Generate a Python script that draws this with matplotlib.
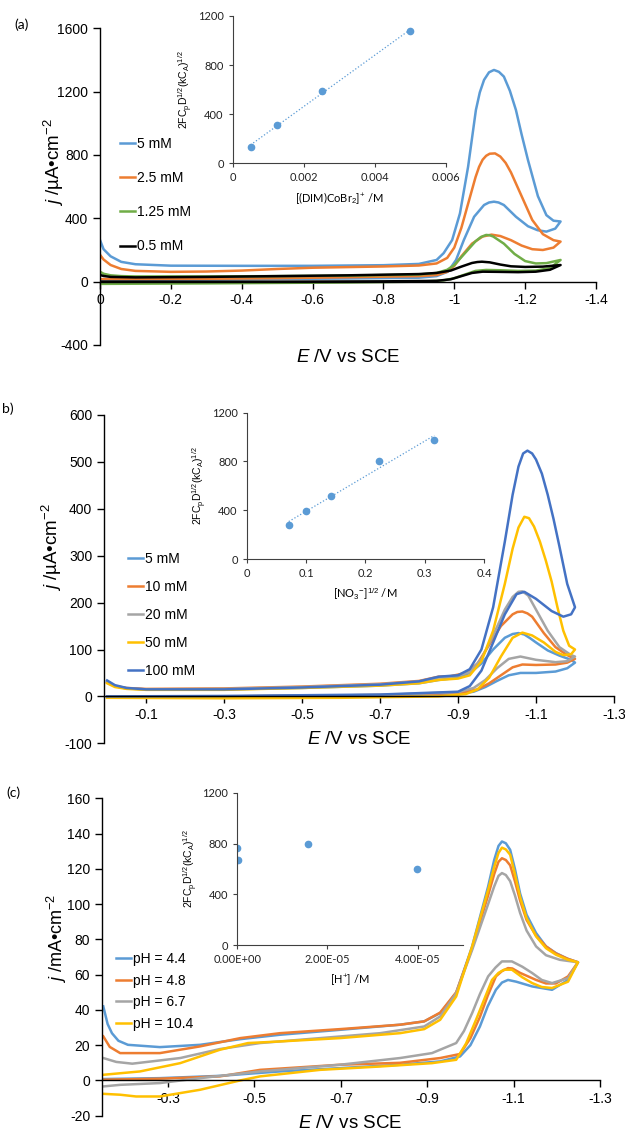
import numpy as np
import matplotlib
matplotlib.use("Agg")
import matplotlib.pyplot as plt
from matplotlib.lines import Line2D

plt.rcParams['font.family'] = ['Liberation Sans', 'DejaVu Sans']
plt.rcParams['axes.unicode_minus'] = False
plt.rcParams['mathtext.fontset'] = 'custom'
plt.rcParams['mathtext.rm'] = 'Liberation Sans'
plt.rcParams['mathtext.it'] = 'Liberation Sans:italic'

# ---------------- panel (a): concentration of (DIM)CoBr2+ ----------------
a_labels = ["5 mM", "2.5 mM", "1.25 mM", "0.5 mM"]
a_5mM = [(0, 263), (-0.01, 205), (-0.03, 160), (-0.06, 125), (-0.1, 110), (-0.2, 101), (-0.4, 100),
         (-0.6, 100), (-0.8, 104), (-0.9, 112), (-0.95, 137), (-0.97, 180), (-0.994, 263), (-1.016, 431),
         (-1.039, 726), (-1.061, 1084), (-1.072, 1195), (-1.084, 1274), (-1.098, 1322), (-1.112, 1337),
         (-1.126, 1325), (-1.14, 1295), (-1.157, 1205), (-1.174, 1084), (-1.19, 930), (-1.208, 768),
         (-1.236, 540), (-1.26, 420), (-1.28, 385), (-1.3, 380),
         (-1.285, 335), (-1.26, 316), (-1.235, 325), (-1.208, 350), (-1.174, 410), (-1.14, 484),
         (-1.125, 500), (-1.112, 505), (-1.098, 500), (-1.084, 484), (-1.056, 410), (-1.027, 263),
         (-1.005, 137), (-0.982, 63), (-0.95, 35), (-0.9, 25), (-0.7, 20), (-0.5, 17), (-0.3, 14),
         (-0.1, 12), (0, 12)]
a_2_5mM = [(0, 170), (-0.01, 140), (-0.03, 105), (-0.06, 80), (-0.1, 68), (-0.2, 62), (-0.3, 64), (-0.4, 70),
           (-0.5, 80), (-0.6, 88), (-0.7, 92), (-0.8, 96), (-0.9, 102), (-0.95, 115), (-0.98, 150), (-1.0, 215),
           (-1.02, 340), (-1.04, 500), (-1.06, 660), (-1.07, 725), (-1.08, 770), (-1.09, 795), (-1.1, 808),
           (-1.115, 810), (-1.13, 790), (-1.145, 750), (-1.16, 690), (-1.19, 540), (-1.22, 390), (-1.25, 300),
           (-1.28, 262), (-1.3, 253),
           (-1.28, 215), (-1.25, 200), (-1.22, 205), (-1.19, 228), (-1.16, 262), (-1.13, 288), (-1.105, 297),
           (-1.08, 285), (-1.05, 240), (-1.02, 160), (-1.0, 100), (-0.98, 62), (-0.95, 42), (-0.9, 35),
           (-0.7, 28), (-0.5, 22), (-0.3, 18), (-0.1, 16), (0, 16)]
a_1_25mM = [(0, 63), (-0.01, 50), (-0.03, 40), (-0.06, 35), (-0.1, 33), (-0.3, 33), (-0.5, 35), (-0.7, 38),
            (-0.9, 45), (-0.95, 55), (-0.98, 75), (-1.0, 105), (-1.03, 180), (-1.06, 255), (-1.075, 282),
            (-1.09, 295), (-1.1, 293), (-1.11, 285), (-1.14, 240), (-1.17, 175), (-1.2, 130), (-1.23, 115),
            (-1.26, 117), (-1.3, 137),
            (-1.27, 85), (-1.23, 70), (-1.18, 68), (-1.13, 72), (-1.09, 74), (-1.06, 68), (-1.03, 45),
            (-1.0, 22), (-0.97, 8), (-0.9, 0), (-0.7, -5), (-0.5, -8), (-0.3, -11), (-0.1, -13), (0, -14)]
a_0_5mM = [(0, 42), (-0.01, 36), (-0.03, 30), (-0.1, 27), (-0.3, 30), (-0.5, 35), (-0.7, 40), (-0.9, 48),
           (-0.95, 55), (-0.99, 70), (-1.02, 95), (-1.05, 118), (-1.065, 124), (-1.078, 126), (-1.1, 122),
           (-1.13, 108), (-1.16, 97), (-1.2, 93), (-1.25, 95), (-1.3, 105),
           (-1.27, 75), (-1.23, 63), (-1.18, 60), (-1.12, 62), (-1.08, 63), (-1.05, 55), (-1.02, 35),
           (-0.99, 15), (-0.95, 5), (-0.8, 2), (-0.5, 0), (0, 0)]
a_conc = [0.0005, 0.00125, 0.0025, 0.005]
a_inset = [130, 316, 589, 1080]

# ---------------- panel (b): nitrate concentration ----------------
b_labels = ["5 mM", "10 mM", "20 mM", "50 mM", "100 mM"]
b_5mM = [(0, 32), (-0.02, 22), (-0.05, 17), (-0.1, 15), (-0.3, 15), (-0.5, 18), (-0.7, 23), (-0.8, 28),
         (-0.85, 35), (-0.9, 40), (-0.93, 50), (-0.96, 70), (-0.99, 100), (-1.02, 125), (-1.04, 133),
         (-1.055, 135), (-1.07, 132), (-1.085, 124), (-1.1, 115), (-1.13, 98), (-1.16, 87), (-1.19, 78),
         (-1.2, 72),
         (-1.18, 60), (-1.15, 53), (-1.1, 50), (-1.06, 50), (-1.03, 45), (-1.0, 33), (-0.97, 20),
         (-0.94, 10), (-0.9, 5), (-0.7, 2), (-0.3, 0), (0, -2)]
b_10mM = [(0, 30), (-0.02, 22), (-0.05, 18), (-0.1, 16), (-0.3, 17), (-0.5, 21), (-0.7, 27), (-0.8, 33),
          (-0.85, 42), (-0.88, 43), (-0.92, 50), (-0.95, 70), (-0.98, 110), (-1.01, 150), (-1.04, 175),
          (-1.052, 180), (-1.065, 181), (-1.078, 177), (-1.09, 170), (-1.12, 135), (-1.15, 105),
          (-1.18, 88), (-1.2, 80),
          (-1.18, 72), (-1.15, 68), (-1.1, 67), (-1.065, 68), (-1.04, 62), (-1.01, 45), (-0.98, 28),
          (-0.95, 15), (-0.9, 7), (-0.7, 3), (-0.3, 0), (0, -1)]
b_20mM = [(0, 30), (-0.02, 22), (-0.05, 17), (-0.1, 15), (-0.3, 16), (-0.5, 20), (-0.7, 26), (-0.8, 32),
          (-0.85, 40), (-0.9, 44), (-0.93, 52), (-0.96, 80), (-0.99, 130), (-1.02, 185), (-1.04, 212),
          (-1.055, 223), (-1.065, 224), (-1.08, 215), (-1.1, 185), (-1.13, 140), (-1.16, 105), (-1.19, 88),
          (-1.2, 85),
          (-1.18, 75), (-1.15, 73), (-1.1, 78), (-1.06, 85), (-1.03, 80), (-1.0, 60), (-0.97, 35),
          (-0.94, 18), (-0.9, 9), (-0.7, 3), (-0.3, 0), (0, -1)]
b_50mM = [(0, 28), (-0.02, 20), (-0.05, 16), (-0.1, 14), (-0.3, 14), (-0.5, 18), (-0.7, 23), (-0.8, 28),
          (-0.85, 35), (-0.9, 38), (-0.93, 45), (-0.96, 75), (-0.99, 140), (-1.02, 240), (-1.04, 315),
          (-1.055, 360), (-1.07, 383), (-1.082, 380), (-1.095, 362), (-1.11, 330), (-1.125, 290),
          (-1.14, 245), (-1.155, 190), (-1.17, 140), (-1.185, 108), (-1.2, 100),
          (-1.19, 90), (-1.17, 88), (-1.15, 95), (-1.12, 115), (-1.09, 130), (-1.065, 136), (-1.04, 125),
          (-1.01, 85), (-0.98, 40), (-0.95, 15), (-0.92, 5), (-0.85, 0), (-0.6, -3), (-0.3, -4), (0, -3)]
b_100mM = [(0, 34), (-0.02, 24), (-0.05, 18), (-0.1, 15), (-0.3, 15), (-0.5, 19), (-0.7, 25), (-0.8, 32),
           (-0.85, 42), (-0.9, 45), (-0.93, 58), (-0.96, 100), (-0.99, 190), (-1.02, 330), (-1.04, 430),
           (-1.055, 490), (-1.067, 518), (-1.078, 524), (-1.09, 518), (-1.1, 505), (-1.115, 475),
           (-1.13, 430), (-1.145, 378), (-1.16, 320), (-1.18, 240), (-1.2, 190),
           (-1.19, 175), (-1.17, 170), (-1.14, 182), (-1.1, 208), (-1.07, 223), (-1.05, 218), (-1.02, 175),
           (-0.99, 115), (-0.96, 55), (-0.93, 22), (-0.9, 10), (-0.7, 4), (-0.3, 1), (0, 0)]
b_no3 = [0.0707, 0.1, 0.1414, 0.2236, 0.3162]
b_inset = [279, 394, 517, 804, 976]

# ---------------- panel (c): pH ----------------
c_labels = ["pH = 4.4", "pH = 4.8", "pH = 6.7", "pH = 10.4"]
c_ph44 = [(-0.15, 42), (-0.16, 32), (-0.17, 26.8), (-0.185, 22.5), (-0.207, 20.2), (-0.281, 18.9),
          (-0.374, 20.2), (-0.467, 23.4), (-0.559, 25.9), (-0.698, 28.7), (-0.837, 31.6), (-0.893, 33.5),
          (-0.93, 38.2), (-0.967, 49.5), (-1.004, 76), (-1.041, 110), (-1.055, 125), (-1.065, 133),
          (-1.073, 135.5), (-1.082, 134.5), (-1.092, 130.8), (-1.103, 120), (-1.115, 106), (-1.13, 94),
          (-1.152, 83.6), (-1.175, 76), (-1.198, 72.2), (-1.225, 69), (-1.249, 67),
          (-1.226, 57), (-1.189, 51.4), (-1.143, 53.3), (-1.106, 56), (-1.087, 57), (-1.073, 55.5),
          (-1.059, 51.4), (-1.04, 42), (-1.022, 30.6), (-1.0, 20), (-0.976, 13.6), (-0.93, 10.8),
          (-0.837, 8.9), (-0.698, 7), (-0.559, 5.1), (-0.42, 2.6), (-0.281, 1.3), (-0.15, 0.8)]
c_ph48 = [(-0.15, 25), (-0.165, 19), (-0.189, 15.5), (-0.281, 15.5), (-0.374, 19.3), (-0.467, 24),
          (-0.559, 26.8), (-0.698, 29.1), (-0.837, 31.6), (-0.893, 33.5), (-0.93, 38.5), (-0.967, 50),
          (-1.004, 75), (-1.041, 105), (-1.055, 117), (-1.065, 124), (-1.073, 126), (-1.082, 125),
          (-1.092, 122), (-1.103, 113), (-1.115, 102), (-1.13, 91), (-1.152, 82), (-1.175, 76),
          (-1.198, 72), (-1.225, 69), (-1.249, 67),
          (-1.226, 59), (-1.198, 55), (-1.175, 55), (-1.152, 57), (-1.115, 61), (-1.097, 63.5),
          (-1.087, 63.7), (-1.073, 62), (-1.059, 59), (-1.04, 48), (-1.022, 36), (-1.0, 24),
          (-0.976, 15), (-0.93, 12.7), (-0.837, 10), (-0.698, 8.9), (-0.513, 6), (-0.42, 2.3),
          (-0.281, 1), (-0.15, 0.4)]
c_ph67 = [(-0.15, 12.7), (-0.18, 10.5), (-0.217, 9.5), (-0.328, 12.7), (-0.42, 17.8), (-0.513, 21.2),
          (-0.652, 24), (-0.791, 26.8), (-0.893, 30.6), (-0.93, 36.3), (-0.967, 49.5), (-1.004, 74),
          (-1.041, 100), (-1.055, 110), (-1.065, 116), (-1.073, 117.6), (-1.082, 116.5), (-1.092, 113),
          (-1.103, 105), (-1.115, 95), (-1.13, 85), (-1.152, 76), (-1.175, 71), (-1.207, 68.4), (-1.249, 67),
          (-1.226, 58), (-1.189, 55.2), (-1.165, 57), (-1.143, 60.9), (-1.12, 64.5), (-1.096, 67.5),
          (-1.073, 67.5), (-1.058, 64), (-1.041, 59), (-1.022, 49), (-1.004, 38.2), (-0.985, 28),
          (-0.967, 21.2), (-0.911, 15.5), (-0.837, 12.7), (-0.698, 8.9), (-0.513, 5.1), (-0.374, 1.3),
          (-0.281, -1.5), (-0.189, -2.5), (-0.15, -3.4)]
c_ph104 = [(-0.15, 3.2), (-0.235, 5.1), (-0.328, 9.8), (-0.42, 17.4), (-0.485, 21.2), (-0.559, 22.1),
           (-0.698, 24), (-0.837, 26.8), (-0.893, 29.1), (-0.93, 34.4), (-0.967, 47.6), (-1.004, 76),
           (-1.041, 108), (-1.055, 121), (-1.065, 129), (-1.073, 132), (-1.082, 131), (-1.092, 128),
           (-1.103, 117), (-1.115, 104), (-1.13, 92), (-1.152, 81.7), (-1.175, 75), (-1.198, 71.3),
           (-1.225, 68.5), (-1.249, 67),
           (-1.226, 56), (-1.189, 52.4), (-1.165, 53), (-1.143, 55.2), (-1.12, 58.5), (-1.096, 62.8),
           (-1.078, 62.8), (-1.065, 61), (-1.05, 57), (-1.032, 46), (-1.013, 34.4), (-0.99, 21),
           (-0.967, 11.7), (-0.911, 9.8), (-0.791, 7.9), (-0.652, 6), (-0.513, 2.3), (-0.467, 0),
           (-0.374, -5.3), (-0.281, -9.1), (-0.226, -9.1), (-0.189, -8.1), (-0.15, -7.6)]
c_h = [4e-11, 2e-7, 1.58e-5, 3.98e-5]
c_inset = [767, 673, 799, 598]

BLUE, ORANGE, GRAY, YELLOW, DBLUE, GREEN = "#5B9BD5", "#ED7D31", "#A5A5A5", "#FFC000", "#4472C4", "#70AD47"
W, H = 625, 1132


def rect(l, t, r, b):
    return [l / W, 1 - b / H, (r - l) / W, (b - t) / H]


def main_axes(r, curves, colors, xlim, ylim, xticks, yticks, fmt):
    ax = fig.add_axes(r)
    ax.set_facecolor("none")
    for c, col in zip(curves, colors):
        e = [p[0] for p in c]
        j = [p[1] for p in c]
        ax.plot(e, j, color=col, lw=1.8, solid_joinstyle="round")
    ax.set_xlim(*xlim)
    ax.set_ylim(*ylim)
    for s in ["top", "right"]:
        ax.spines[s].set_visible(False)
    ax.spines["bottom"].set_position(("data", 0))
    for s in ["left", "bottom"]:
        ax.spines[s].set_color("black")
        ax.spines[s].set_linewidth(1.0)
    ax.set_xticks(xticks)
    ax.set_xticklabels([fmt(v) for v in xticks])
    ax.set_yticks(yticks)
    ax.set_yticklabels([str(v) for v in yticks])
    ax.tick_params(direction="out", length=5, width=1, labelsize=10, colors="black")
    return ax


def inset_axes(r, x, y, xlim, xticks, xtl, xlabel, trend):
    ax = fig.add_axes(r)
    ax.set_facecolor("none")
    if trend:
        k, b0 = np.polyfit(x, y, 1)
        xs = np.array([min(x), max(x)])
        ax.plot(xs, k * xs + b0, ls=":", color=BLUE, lw=0.9)
    ax.plot(x, y, "o", color=BLUE, ms=4.5)
    ax.set_xlim(*xlim)
    ax.set_ylim(0, 1200)
    ax.set_yticks([0, 400, 800, 1200])
    ax.set_xticks(xticks)
    ax.set_xticklabels(xtl)
    for s in ["top", "right"]:
        ax.spines[s].set_visible(False)
    for s in ["left", "bottom"]:
        ax.spines[s].set_color("#404040")
        ax.spines[s].set_linewidth(0.8)
    ax.tick_params(direction="out", length=3, width=0.8, labelsize=8, colors="#404040")
    for t in ax.get_xticklabels() + ax.get_yticklabels():
        t.set_family("Lato")
        t.set_color("#222222")
    ax.set_xlabel(xlabel, fontsize=8, family="Lato", labelpad=5)
    ax.set_ylabel(r"2FC$_\mathrm{p}$D$^{1/2}$(kC$_\mathrm{A}$)$^{1/2}$", fontsize=7.5, labelpad=2)
    return ax


def legend(ax, colors, labels, x, y, spacing, fs=10):
    hs = [Line2D([], [], color=c, lw=1.8) for c in colors]
    ax.legend(hs, labels, loc="upper left", bbox_to_anchor=(x / W, 1 - y / H), bbox_transform=fig.transFigure,
              frameon=False, borderpad=0, borderaxespad=0, handlelength=1.1, handletextpad=0.1,
              labelspacing=spacing, fontsize=fs)


def gfmt(v):
    return ("%g" % v)


fig = plt.figure(figsize=(W / 100, H / 100), dpi=100)

# (a)
ax = main_axes(rect(100, 28.3, 596, 345), [a_5mM, a_2_5mM, a_1_25mM, a_0_5mM], [BLUE, ORANGE, GREEN, "black"],
               (0, -1.4), (-400, 1600), [0, -0.2, -0.4, -0.6, -0.8, -1.0, -1.2, -1.4],
               [-400, 0, 400, 800, 1200, 1600], gfmt)
legend(ax, [BLUE, ORANGE, GREEN, "black"], a_labels, 120, 137, 1.45)
inset_axes(rect(232.8, 16, 446, 163.3), a_conc, a_inset, (0, 0.006), [0, 0.002, 0.004, 0.006],
           ["0", "0.002", "0.004", "0.006"], r"[(DIM)CoBr$_2$]$^{+}$ /M", True)
fig.text(14 / W, 1 - 25 / H, "(a)", fontsize=10, family="Lato", va="center")
fig.text(54 / W, 1 - 162 / H, r"$\it{j}$ /µA•cm$^{-2}$", fontsize=13.5, rotation=90, ha="center", va="center")
fig.text(348 / W, 1 - 357 / H, r"$\it{E}$ /V vs SCE", fontsize=13.5, ha="center", va="center")

# (b)
ax = main_axes(rect(104, 415, 614, 743.3), [b_5mM, b_10mM, b_20mM, b_50mM, b_100mM],
               [BLUE, ORANGE, GRAY, YELLOW, DBLUE], (0.008, -1.3), (-100, 600),
               [-0.1, -0.3, -0.5, -0.7, -0.9, -1.1, -1.3], [-100, 0, 100, 200, 300, 400, 500, 600], gfmt)
legend(ax, [BLUE, ORANGE, GRAY, YELLOW, DBLUE], b_labels, 128, 552, 1.0)
inset_axes(rect(246.8, 412.7, 484, 559), b_no3, b_inset, (0, 0.4), [0, 0.1, 0.2, 0.3, 0.4],
           ["0", "0.1", "0.2", "0.3", "0.4"], r"[NO$_3$$^{-}$]$^{1/2}$ /M", True)
fig.text(2 / W, 1 - 409 / H, "b)", fontsize=10, family="Lato", va="center")
fig.text(52 / W, 1 - 547 / H, r"$\it{j}$ /µA•cm$^{-2}$", fontsize=13.5, rotation=90, ha="center", va="center")
fig.text(359 / W, 1 - 740 / H, r"$\it{E}$ /V vs SCE", fontsize=13.5, ha="center", va="center")

# (c)
ax = main_axes(rect(102, 798.3, 600, 1115.7), [c_ph44, c_ph48, c_ph67, c_ph104], [BLUE, ORANGE, GRAY, YELLOW],
               (-0.147, -1.3), (-20, 160), [-0.3, -0.5, -0.7, -0.9, -1.1, -1.3],
               list(range(-20, 161, 20)), gfmt)
legend(ax, [BLUE, ORANGE, GRAY, YELLOW], c_labels, 116, 952, 0.55)
inset_axes(rect(237.2, 792.7, 462.8, 945.3), c_h, c_inset, (0, 5e-5), [0, 2e-5, 4e-5],
           ["0.00E+00", "2.00E-05", "4.00E-05"], r"[H$^{+}$] /M", False)
fig.text(6 / W, 1 - 793 / H, "(c)", fontsize=10, family="Lato", va="center")
fig.text(57 / W, 1 - 938 / H, r"$\it{j}$ /mA•cm$^{-2}$", fontsize=13, rotation=90, ha="center", va="center")
fig.text(350 / W, 1 - 1124 / H, r"$\it{E}$ /V vs SCE", fontsize=13.5, ha="center", va="center")

fig.savefig("out.png", dpi=100)
